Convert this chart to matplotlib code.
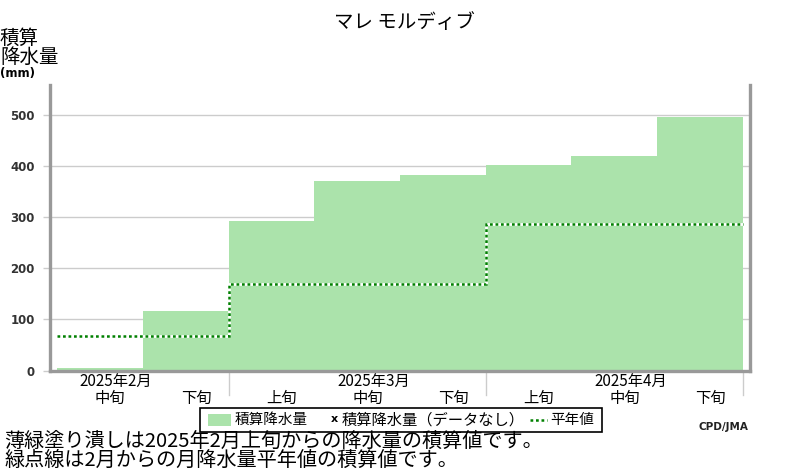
import matplotlib
matplotlib.use("Agg")
import matplotlib.pyplot as plt
from matplotlib.patches import Rectangle
from matplotlib.lines import Line2D
from matplotlib.transforms import blended_transform_factory

plt.rcParams['font.family'] = ['Noto Sans CJK JP', 'DejaVu Sans']

# ---- data ----
title = "マレ モルディブ"
dekad_labels = ["中旬", "下旬", "上旬", "中旬", "下旬", "上旬", "中旬", "下旬"]
month_labels = ["2025年2月", "2025年3月", "2025年4月"]
month_label_slot = [0, 3, 6]          # slot index of each month's 中旬
month_edges = [2, 5, 8]                # slot boundaries where months end
cum_precip = [5, 116, 293, 371, 382, 402, 420, 497]
cum_normal = [67, 67, 170, 170, 170, 286, 286, 286]
yticks = [0, 100, 200, 300, 400, 500]
ylabel = "積算\n降水量"
note1 = "薄緑塗り潰しは2025年2月上旬からの降水量の積算値です。"
note2 = "緑点線は2月からの月降水量平年値の積算値です。"

W, H = 800, 470
fig = plt.figure(figsize=(8, 4.7), dpi=100)

def fx(px):
    return px / W

def fy(py):
    return 1 - py / H

ax = fig.add_axes([fx(50), fy(370.5), fx(750) - fx(50), fy(85) - fy(370.5)])

n = len(cum_precip)
ax.bar(range(n), cum_precip, width=1.0, align='edge', color='#abe3ab',
       edgecolor='none', zorder=2)

edges = list(range(n + 1))
ax.stairs(cum_normal, edges, baseline=None, color='white', linewidth=2.0, zorder=3)
ax.stairs(cum_normal, edges, baseline=None, color='#008000', linewidth=1.8,
          linestyle=(0, (1.1, 1.1)), zorder=4)

ax.set_xlim(-0.082, n + 0.082)
ax.set_ylim(0, 559)

ax.set_yticks(yticks)
ax.set_yticklabels([str(v) for v in yticks], fontsize=8.5, fontweight='bold',
                   color='#333333', family='DejaVu Sans')
ax.tick_params(axis='y', length=5, width=1, color='#cccccc', pad=6)
ax.set_xticks([])
ax.grid(axis='y', color='#cccccc', linewidth=1, zorder=1)
ax.set_axisbelow(True)

for s in ['left', 'bottom', 'right']:
    ax.spines[s].set_color('#999999')
    ax.spines[s].set_linewidth(2.4)
ax.spines['top'].set_visible(False)

# month boundary ticks below axis
xt = ax.get_xaxis_transform()
for e in month_edges:
    ax.add_line(Line2D([e, e], [-0.005, -0.085], transform=xt, color='#cccccc',
                       linewidth=1, clip_on=False))

bt = blended_transform_factory(ax.transData, fig.transFigure)
# dekad labels & month labels
for i, lab in enumerate(dekad_labels):
    ax.text(i + 0.62, fy(398), lab, transform=bt,
            ha='center', va='center', fontsize=11, color='black')
for slot, lab in zip(month_label_slot, month_labels):
    ax.text(slot + 0.69, fy(381), lab, transform=bt,
            ha='center', va='center', fontsize=11, color='black')

# title
fig.text(fx(404), fy(22), title, ha='center', va='center', fontsize=14)

# y label
fig.text(fx(0), fy(47.5), ylabel, ha='left', va='center', fontsize=14,
         linespacing=0.88)
fig.text(fx(0), fy(74), "(mm)", ha='left', va='center', fontsize=8.5,
         fontweight='bold', family='DejaVu Sans')

# legend (manual)
fig.add_artist(Rectangle((fx(200), fy(432)), fx(602) - fx(200), fy(408) - fy(432),
                         transform=fig.transFigure, facecolor='white',
                         edgecolor='black', linewidth=1.2))
fig.add_artist(Rectangle((fx(208), fy(426)), fx(231) - fx(208), fy(414) - fy(426),
                         transform=fig.transFigure, facecolor='#abe3ab',
                         edgecolor='none'))
fig.text(fx(235), fy(420), "積算降水量", ha='left', va='center', fontsize=10.5)
fig.text(fx(331), fy(419), "x", ha='left', va='center', fontsize=8,
         fontweight='bold', family='DejaVu Sans')
fig.text(fx(342), fy(420), "積算降水量（データなし）", ha='left', va='center',
         fontsize=11)
fig.add_artist(Line2D([fx(530), fx(547)], [fy(420), fy(420)],
                      transform=fig.transFigure, color='#008000', linewidth=1.8,
                      linestyle=(0, (1.1, 1.1))))
fig.text(fx(550), fy(420), "平年値", ha='left', va='center', fontsize=10.5)

# notes
fig.text(fx(4), fy(441), note1, ha='left', va='center', fontsize=14.5)
fig.text(fx(4), fy(460), note2, ha='left', va='center', fontsize=14.5)
fig.text(fx(748), fy(427), "CPD/JMA", ha='right', va='center', fontsize=7.5,
         fontweight='bold', family='DejaVu Sans', color='#222222')

fig.savefig("out.png", dpi=100)
